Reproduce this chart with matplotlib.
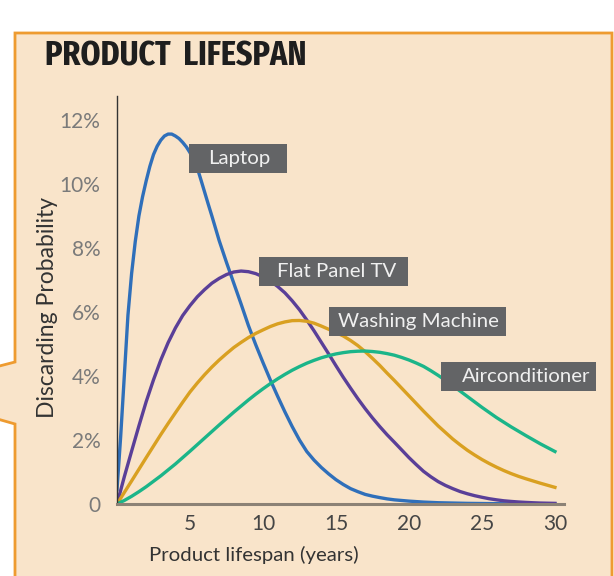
import matplotlib
matplotlib.use("Agg")
from matplotlib import pyplot as plt
from matplotlib import font_manager
from matplotlib.patches import Polygon, Rectangle

# discarding probability (%) by product age (years)
laptop_years = [0, 0.25, 0.5, 0.75, 1, 1.25, 1.5, 1.75, 2, 2.25, 2.5, 2.75, 3, 3.25, 3.5, 3.75, 4, 4.25,
                4.5, 4.75, 5, 5.25, 5.5, 5.75, 6, 6.25, 6.5, 7, 7.5, 8, 8.5, 9, 9.5, 10, 10.5, 11, 11.5,
                12, 12.5, 13, 13.5, 14, 14.5, 15, 15.5, 16, 16.5, 17, 17.5, 18, 18.5, 19, 19.5, 20, 21,
                22, 24, 26, 28, 30]
laptop = [0.45, 2.1, 4.0, 5.9, 7.2, 8.2, 9.0, 9.6, 10.1, 10.55, 10.92, 11.18, 11.37, 11.5, 11.56, 11.56,
          11.5, 11.42, 11.3, 11.16, 10.98, 10.75, 10.5, 10.13, 9.75, 9.37, 9.0, 8.23, 7.55, 6.9, 6.25,
          5.58, 4.98, 4.42, 3.88, 3.37, 2.88, 2.42, 2.0, 1.64, 1.37, 1.14, 0.94, 0.76, 0.61, 0.48, 0.385,
          0.3, 0.245, 0.2, 0.16, 0.13, 0.11, 0.09, 0.06, 0.04, 0.02, 0.01, 0.0, 0.0]

years = [i * 0.5 for i in range(61)]
flat_tv = [0, 0.85, 1.65, 2.44, 3.2, 3.88, 4.5, 5.04, 5.5, 5.89, 6.2, 6.475, 6.7, 6.9, 7.05, 7.17,
           7.25, 7.28, 7.26, 7.2, 7.1, 6.97, 6.8, 6.6, 6.35, 6.07, 5.75, 5.41, 5.05, 4.69, 4.32, 3.96,
           3.62, 3.29, 2.98, 2.69, 2.42, 2.165, 1.93, 1.69, 1.45, 1.23, 1.02, 0.85, 0.7, 0.58, 0.48,
           0.39, 0.32, 0.26, 0.21, 0.165, 0.13, 0.1, 0.08, 0.063, 0.05, 0.039, 0.03, 0.025, 0.02]
washing = [0, 0.36, 0.72, 1.085, 1.45, 1.81, 2.17, 2.515, 2.85, 3.18, 3.5, 3.78, 4.04, 4.28, 4.5, 4.7,
           4.89, 5.05, 5.2, 5.33, 5.44, 5.545, 5.63, 5.69, 5.73, 5.735, 5.71, 5.65, 5.56, 5.46, 5.36,
           5.25, 5.11, 4.95, 4.76, 4.55, 4.33, 4.09, 3.86, 3.62, 3.38, 3.14, 2.9, 2.67, 2.44, 2.235,
           2.03, 1.85, 1.68, 1.53, 1.39, 1.265, 1.15, 1.045, 0.95, 0.865, 0.79, 0.72, 0.65, 0.585, 0.52]
aircon = [0, 0.11, 0.24, 0.385, 0.54, 0.71, 0.88, 1.065, 1.25, 1.45, 1.65, 1.855, 2.06, 2.265, 2.47,
          2.67, 2.87, 3.06, 3.25, 3.43, 3.6, 3.76, 3.91, 4.05, 4.18, 4.295, 4.4, 4.49, 4.57, 4.635,
          4.69, 4.73, 4.76, 4.775, 4.78, 4.765, 4.74, 4.7, 4.65, 4.58, 4.5, 4.405, 4.3, 4.165, 4.02,
          3.865, 3.7, 3.53, 3.36, 3.19, 3.02, 2.86, 2.7, 2.555, 2.41, 2.275, 2.14, 2.01, 1.88, 1.76,
          1.64]

names = ["Laptop", "Flat Panel TV", "Washing Machine", "Airconditioner"]
colours = ["#2f6fba", "#5a3f98", "#d9a021", "#1bb589"]

y_ticks = [0, 2, 4, 6, 8, 10, 12]
y_labels = ["0", "2%", "4%", "6%", "8%", "10%", "12%"]
x_ticks = [5, 10, 15, 20, 25, 30]

BEIGE = "#f9e4ca"
ORANGE = "#ee9b30"
FONT = ["Lato", "DejaVu Sans"]


def condensed_bold():
    # narrowest installed bold face, weight as close to 700 as possible
    best, key = None, (9, 9999)
    for f in font_manager.fontManager.ttflist:
        w = f.weight if isinstance(f.weight, int) else font_manager.weight_dict.get(f.weight, 400)
        fn = f.fname.lower().replace("-", "").replace("_", "")
        if w < 600 or "italic" in fn:
            continue
        if "extracondensed" in fn:
            r = 0
        elif "semicondensed" in fn:
            r = 2
        elif "condensed" in fn or "narrow" in fn or f.stretch == "condensed":
            r = 1
        else:
            continue
        k = (r, abs(w - 700))
        if k < key:
            best, key = f.fname, k
    return best


fig = plt.figure(figsize=(6.14, 5.76), dpi=100)
fig.patch.set_facecolor("white")

# speech bubble panel behind everything, in pixel units
bg = fig.add_axes([0, 0, 1, 1])
bg.set_xlim(0, 614)
bg.set_ylim(576, 0)
bg.axis("off")
panel = [(15, 33), (612, 33), (612, 590), (15, 590), (15, 424), (-20, 414),
         (-20, 371), (15, 362)]
bg.add_patch(Polygon(panel, closed=True, fc=BEIGE, ec=ORANGE, lw=2))

ax = fig.add_axes([117 / 614, 1 - 504 / 576, 447 / 614, 408 / 576])
ax.set_facecolor("none")

ax.plot(laptop_years, laptop, color=colours[0], lw=2.4)
for vals, c in zip([flat_tv, washing, aircon], colours[1:]):
    ax.plot(years, vals, color=c, lw=2.4)

ax.set_xlim(0, 30.62)
ax.set_ylim(0, 12.75)
ax.set_yticks(y_ticks)
ax.set_yticklabels(y_labels, family=FONT, fontsize=15, color="#7a7a7a")
ax.set_xticks(x_ticks)
ax.set_xticklabels([str(t) for t in x_ticks], family=FONT, fontsize=15, color="#454545")
ax.tick_params(axis="both", length=0)
ax.tick_params(axis="y", pad=12)
ax.tick_params(axis="x", pad=7)
for s in ["top", "right"]:
    ax.spines[s].set_visible(False)
ax.spines["left"].set_color("#333333")
ax.spines["left"].set_linewidth(1)
ax.spines["bottom"].set_color("#8c8276")
ax.spines["bottom"].set_linewidth(2.2)

# name boxes: left edge (years), centre (%), width (years), text start (years)
boxes = [(4.93, 10.8, 6.71, 6.23), (9.73, 7.27, 10.18, 10.98),
         (14.52, 5.71, 12.1, 15.16), (22.19, 3.99, 10.6, 23.6)]
for (x0, yc, w, xt), name in zip(boxes, names):
    ax.add_patch(Rectangle((x0, yc - 0.45), w, 0.9, fc="#636466", ec="none", clip_on=False,
                           zorder=3))
    ax.text(xt, yc, name, ha="left", va="center", family=FONT, fontsize=14.7, color="#f0f0f0",
            zorder=4, clip_on=False)

fig.text(149 / 614, 1 - 555 / 576, "Product lifespan (years)", ha="left", va="center",
         family=FONT, fontsize=14.7, color="#333333")
fig.text(47 / 614, 1 - 307 / 576, "Discarding Probability", ha="center", va="center",
         rotation=90, family=FONT, fontsize=16.5, color="#333333")

title_font = condensed_bold()
if title_font:
    tprops = dict(fontproperties=font_manager.FontProperties(fname=title_font, size=25))
else:
    tprops = dict(family="DejaVu Sans", fontweight="bold", fontsize=19)
fig.text(45 / 614, 1 - 56 / 576, "PRODUCT  LIFESPAN", ha="left", va="center", color="#1e1e1e",
         **tprops)

fig.savefig("out.png", dpi=100)
